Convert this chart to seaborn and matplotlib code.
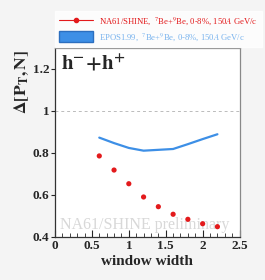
import numpy as np
import pandas as pd
import matplotlib
matplotlib.use("Agg")
import matplotlib.pyplot as plt
import seaborn as sns
from matplotlib.lines import Line2D
from matplotlib.patches import Patch
from matplotlib.ticker import MultipleLocator

# ===================== Data =====================
window_width = [0.6, 0.8, 1.0, 1.2, 1.4, 1.6, 1.8, 2.0, 2.2]
na61_vals = [0.785, 0.718, 0.653, 0.590, 0.544, 0.508, 0.484, 0.463, 0.449]
epos_vals = [0.872, 0.846, 0.823, 0.810, 0.814, 0.818, 0.841, 0.865, 0.888]

df = pd.DataFrame({'w': window_width, 'na61': na61_vals, 'epos': epos_vals})

# ===================== Style =====================
sns.set_style("ticks")
plt.rcParams['font.family'] = ['Liberation Serif', 'DejaVu Serif']
plt.rcParams['mathtext.fontset'] = 'stix'

fig = plt.figure(figsize=(2.65, 2.8), dpi=100, facecolor='#f4f4f4')
ax = fig.add_axes([0.2075, 0.1536, 0.6965, 0.6767])
ax.set_facecolor('white')

sns.lineplot(data=df, x='w', y='epos', color='#3d8fe6', linewidth=1.6, ax=ax)
sns.scatterplot(data=df, x='w', y='na61', color='#e31a1c', s=14, edgecolor='none',
                ax=ax, zorder=4)

ax.axhline(1.0, color='#bbbbbb', linestyle=(0, (3, 3)), linewidth=0.7, zorder=1)

ax.set_xlim(0, 2.5)
ax.set_ylim(0.4, 1.3)
ax.xaxis.set_major_locator(MultipleLocator(0.5))
ax.xaxis.set_minor_locator(MultipleLocator(0.1))
ax.set_yticks([0.4, 0.6, 0.8, 1.0, 1.2])
ax.set_yticklabels(['0.4', '0.6', '0.8', '1', '1.2'])
ax.set_xticks([0, 0.5, 1, 1.5, 2, 2.5])
ax.set_xticklabels(['0', '0.5', '1', '1.5', '2', '2.5'])
ax.tick_params(axis='x', which='major', direction='in', length=5, width=0.8, pad=2)
ax.tick_params(axis='x', which='minor', direction='in', length=3, width=0.6)
ax.tick_params(axis='y', which='major', direction='out', length=3, width=0.8, pad=1)
for lbl in ax.get_xticklabels() + ax.get_yticklabels():
    lbl.set_fontweight('bold')
    lbl.set_fontsize(9.5)

for side in ['top', 'right']:
    ax.spines[side].set_color('#888888')
for side in ['left', 'bottom']:
    ax.spines[side].set_color('#333333')
for sp in ax.spines.values():
    sp.set_linewidth(0.9)

ax.set_xlabel('window width', fontsize=11, fontweight='bold', labelpad=2)
ax.set_ylabel(r'$\mathbf{\Delta[P_{T}, N]}$', fontsize=12.5, labelpad=2)
ax.yaxis.set_label_coords(-0.13, 0.82)

ax.text(0.03, 0.97, r'$\mathbf{h^{-}\!+\!h^{+}}$', transform=ax.transAxes,
        fontsize=15, va='top', ha='left')
ax.text(1.21, 0.457, 'NA61/SHINE preliminary', color='#d8d8d8', fontsize=11.5,
        ha='center', va='center', zorder=0)

handles = [Line2D([0], [0], color='#e31a1c', linewidth=0.8, marker='o', markersize=3),
           Patch(facecolor='#3d8fe6', edgecolor='#2c6fbf')]
labels = [r'NA61/SHINE,  $^{7}$Be+$^{9}$Be, 0-8%, 150$A$ GeV/c',
          r'EPOS1.99,  $^{7}$Be+$^{9}$Be, 0-8%, 150$A$ GeV/c']
leg = fig.legend(handles, labels, loc='upper left', bbox_to_anchor=(0.19, 0.975),
                 frameon=True, fontsize=6.2, handlelength=3.9, handleheight=1.5,
                 handletextpad=0.8, borderpad=0.5, labelspacing=0.4, fancybox=False)
leg.get_frame().set_facecolor('white')
leg.get_frame().set_edgecolor('white')
leg.get_texts()[0].set_color('#e31a1c')
leg.get_texts()[1].set_color('#7ab4ee')

fig.savefig('out.png', dpi=100, facecolor=fig.get_facecolor())
